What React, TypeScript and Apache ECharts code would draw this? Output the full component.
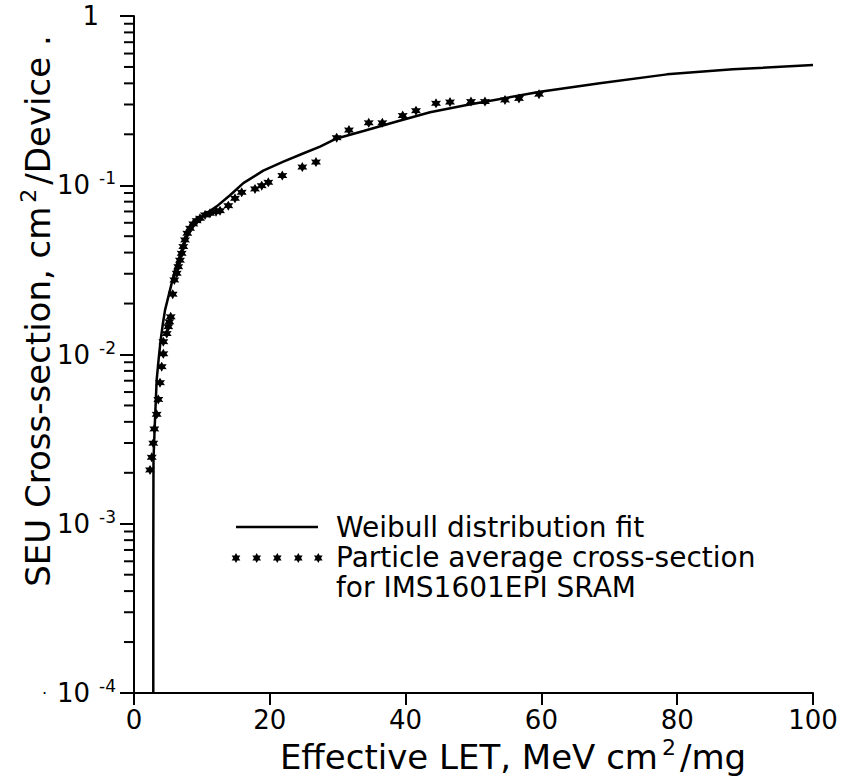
import React, { useEffect, useRef } from "react";
import * as echarts from "echarts";

// ---------- data ----------
const weibullX = [2.84, 2.84, 2.87, 3.09, 3.34, 3.63, 3.93, 4.25, 4.57, 5.3, 6.04, 7.03, 7.75, 8.5, 9.2, 9.97, 11.0, 12.18, 14.1, 16.1, 19.04, 22.0, 24.9, 27.4, 29.85, 33.8, 38.7, 43.6, 49.0, 59.8, 68.6, 78.5, 88.2, 100];
const weibullY = [1e-4, 6.1e-4, 2.38e-3, 4.1e-3, 7.07e-3, 9.4e-3, 1.22e-2, 1.52e-2, 1.83e-2, 2.4e-2, 3.16e-2, 4.14e-2, 4.95e-2, 5.69e-2, 6.15e-2, 6.52e-2, 6.98e-2, 7.5e-2, 0.087, 0.103, 0.122, 0.138, 0.154, 0.169, 0.189, 0.209, 0.238, 0.27, 0.298, 0.357, 0.4, 0.452, 0.484, 0.513];

const pointX = [2.36, 2.61, 2.84, 2.99, 3.34, 3.58, 3.83, 4.08, 4.32, 4.32, 4.82, 5.05, 5.2, 5.4, 5.7, 5.94, 6.29, 6.52, 6.77, 7.02, 7.26, 7.51, 7.85, 8.25, 8.73, 9.23, 9.72, 10.46, 11.19, 12.08, 12.67, 13.89, 14.87, 15.86, 17.82, 18.81, 19.78, 21.84, 24.79, 26.8, 29.85, 31.66, 34.57, 36.57, 39.57, 41.53, 44.48, 46.54, 49.63, 51.69, 54.64, 56.7, 59.65];
const pointY = [0.00208, 0.00247, 0.00299, 0.00363, 0.00443, 0.00543, 0.00681, 0.00847, 0.0101, 0.0119, 0.0133, 0.0146, 0.0156, 0.0167, 0.0227, 0.0276, 0.0302, 0.033, 0.0361, 0.0396, 0.0434, 0.0475, 0.052, 0.0557, 0.0591, 0.0618, 0.0638, 0.0668, 0.0683, 0.0698, 0.0708, 0.0757, 0.0837, 0.0908, 0.0951, 0.0994, 0.104, 0.114, 0.128, 0.137, 0.191, 0.212, 0.234, 0.234, 0.258, 0.276, 0.305, 0.31, 0.312, 0.312, 0.319, 0.326, 0.345];

const yMinorTicks = [
  2e-4, 3e-4, 4e-4, 5e-4, 6e-4, 7e-4, 8e-4, 9e-4,
  2e-3, 3e-3, 4e-3, 5e-3, 6e-3, 7e-3, 8e-3, 9e-3,
  2e-2, 3e-2, 4e-2, 5e-2, 6e-2, 7e-2, 8e-2, 9e-2,
  0.2, 0.3, 0.4, 0.5, 0.6, 0.7, 0.8, 0.9,
];

const legendLabels = ["Weibull distribution fit", "Particle average cross-section", "for IMS1601EPI SRAM"];
const xTitle = ["Effective LET, MeV cm", "2", "/mg"];
const yTitle = ["SEU Cross-section, cm", "2", "/Device ."];

// ---------- shapes ----------
const STAR_D = "M0,-5 L1.38,-2.38 L4.33,-2.5 L2.75,0 L4.33,2.5 L1.38,2.38 L0,5 L-1.38,2.38 L-4.33,2.5 L-2.75,0 L-4.33,-2.5 L-1.38,-2.38 Z";
const STAR_SYMBOL = "path://M0,-10 L2.75,-4.76 L8.66,-5 L5.5,0 L8.66,5 L2.75,4.76 L0,10 L-2.75,4.76 L-8.66,5 L-5.5,0 L-8.66,-5 L-2.75,-4.76 Z";

try {
  echarts.graphic.registerShape("star6", echarts.graphic.extendPath(STAR_D, {}));
} catch (e) {
  /* already registered */
}

const FONT = "DejaVu Sans";

export default function App() {
  const ref = useRef<HTMLDivElement>(null);

  useEffect(() => {
    if (!ref.current) return;
    const chart = echarts.init(ref.current, null, { renderer: "svg" });

    const weibullData = weibullX.map((x, i) => [x, weibullY[i]]);
    const pointData = pointX.map((x, i) => [x, pointY[i]]);
    const minorData = yMinorTicks.map((v) => [0, v]);

    const legendStarXs = [236, 256.7, 277.3, 298.3, 318.3];

    const titleRich = {
      t: { fontSize: 34, fontFamily: FONT, color: "#000", lineHeight: 38 },
      sup: { fontSize: 22, fontFamily: FONT, color: "#000", lineHeight: 18, padding: [0, 4, 20, 4] },
    };

    const option: any = {
      animation: false,
      backgroundColor: "#fff",
      grid: { left: 134, top: 16, width: 679, height: 677, containLabel: false },
      xAxis: {
        type: "value",
        min: 0,
        max: 100,
        interval: 20,
        axisLine: { show: true, onZero: false, lineStyle: { color: "#000", width: 2 } },
        axisTick: { show: true, inside: false, length: 12, lineStyle: { color: "#000", width: 2 } },
        splitLine: { show: false },
        axisLabel: { color: "#000", fontSize: 26, fontFamily: FONT, margin: 14, lineHeight: 26 },
      },
      yAxis: {
        type: "log",
        logBase: 10,
        min: 1e-4,
        max: 1,
        axisLine: { show: true, onZero: false, lineStyle: { color: "#000", width: 2 } },
        axisTick: { show: true, inside: false, length: 14, lineStyle: { color: "#000", width: 2 } },
        splitLine: { show: false },
        axisLabel: {
          margin: 18,
          color: "#000",
          formatter: (v: number) => {
            const e = Math.round(Math.log10(v));
            if (e === 0) return "{one|1}";
            if (e === -4) return "{dot|·}{b|10}{s|-4}";
            return "{b|10}{s|" + e + "}";
          },
          rich: {
            b: { fontSize: 26, fontFamily: FONT, color: "#000", lineHeight: 32 },
            one: { fontSize: 26, fontFamily: FONT, color: "#000", lineHeight: 32, padding: [0, 17, 0, 0] },
            dot: { fontSize: 16, fontFamily: FONT, color: "#000", lineHeight: 32, padding: [0, 10, 0, 0] },
            s: { fontSize: 17, fontFamily: FONT, color: "#000", lineHeight: 17, padding: [0, 0, 14, 9] },
          },
        },
      },
      series: [
        {
          type: "custom",
          clip: false,
          silent: true,
          data: minorData,
          encode: { x: 0, y: 1 },
          renderItem: (params: any, api: any) => {
            const p = api.coord([0, api.value(1)]);
            return {
              type: "line",
              shape: { x1: p[0] - 10, y1: p[1], x2: p[0], y2: p[1] },
              style: { stroke: "#000", lineWidth: 2 },
            };
          },
        },
        {
          type: "line",
          name: legendLabels[0],
          data: weibullData,
          showSymbol: false,
          smooth: false,
          lineStyle: { color: "#000", width: 2.5 },
          itemStyle: { color: "#000" },
        },
        {
          type: "scatter",
          name: legendLabels[1],
          data: pointData,
          symbol: STAR_SYMBOL,
          symbolSize: 10,
          itemStyle: { color: "#000", opacity: 1 },
        },
      ],
      graphic: [
        {
          type: "text",
          x: 38,
          y: 311,
          rotation: Math.PI / 2,
          style: {
            text: "{t|" + yTitle[0] + "}{sup|" + yTitle[1] + "}{t|" + yTitle[2] + "}",
            align: "center",
            verticalAlign: "middle",
            fill: "#000",
            rich: titleRich,
          },
        },
        {
          type: "text",
          x: 513,
          y: 757,
          style: {
            text: "{t|" + xTitle[0] + "}{sup|" + xTitle[1] + "}{t|" + xTitle[2] + "}",
            align: "center",
            verticalAlign: "middle",
            fill: "#000",
            rich: titleRich,
          },
        },
        {
          type: "line",
          shape: { x1: 236, y1: 527, x2: 318, y2: 527 },
          style: { stroke: "#000", lineWidth: 2.5 },
        },
        ...legendStarXs.map((x) => ({
          type: "star6",
          x,
          y: 558,
          style: { fill: "#000" },
        })),
        {
          type: "text",
          x: 336,
          y: 527,
          style: { text: legendLabels[0], fontSize: 28, fontFamily: FONT, fill: "#000", verticalAlign: "middle", align: "left" },
        },
        {
          type: "text",
          x: 336,
          y: 557,
          style: { text: legendLabels[1], fontSize: 28, fontFamily: FONT, fill: "#000", verticalAlign: "middle", align: "left" },
        },
        {
          type: "text",
          x: 336,
          y: 587,
          style: { text: legendLabels[2], fontSize: 28, fontFamily: FONT, fill: "#000", verticalAlign: "middle", align: "left" },
        },
      ],
    };

    chart.setOption(option);
    return () => chart.dispose();
  }, []);

  return (
    <div
      ref={ref}
      style={{ position: "fixed", left: 0, top: 0, width: 844, height: 781, background: "#fff" }}
    />
  );
}
